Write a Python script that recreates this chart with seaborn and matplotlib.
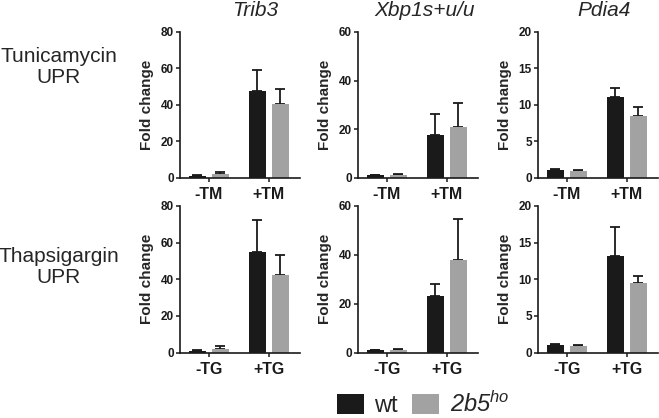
import matplotlib
matplotlib.use("Agg")
import matplotlib.pyplot as plt
from matplotlib.patches import Patch
import seaborn as sns
import pandas as pd
import numpy as np

# ---------------- data ----------------
genes = ["Trib3", "Xbp1s+u/u", "Pdia4"]
treat_tm = ["-TM", "+TM"]
treat_tg = ["-TG", "+TG"]
genotypes = ["wt", "2b5ho"]
ymax = [80, 60, 20]
ystep = [20, 20, 5]

# Tunicamycin row: mean values and (upper) SEM
tm_wt = {"Trib3": [1.0, 47.5], "Xbp1s+u/u": [1.0, 17.5], "Pdia4": [1.05, 11.0]}
tm_wt_err = {"Trib3": [0.3, 11.8], "Xbp1s+u/u": [0.2, 8.7], "Pdia4": [0.1, 1.3]}
tm_ko = {"Trib3": [2.0, 40.2], "Xbp1s+u/u": [1.1, 20.7], "Pdia4": [0.9, 8.5]}
tm_ko_err = {"Trib3": [1.2, 8.4], "Xbp1s+u/u": [0.4, 9.9], "Pdia4": [0.12, 1.2]}

# Thapsigargin row
tg_wt = {"Trib3": [1.0, 55.0], "Xbp1s+u/u": [1.0, 23.3], "Pdia4": [1.05, 13.2]}
tg_wt_err = {"Trib3": [0.3, 17.5], "Xbp1s+u/u": [0.2, 4.8], "Pdia4": [0.08, 3.9]}
tg_ko = {"Trib3": [2.0, 42.2], "Xbp1s+u/u": [1.1, 37.9], "Pdia4": [0.9, 9.5]}
tg_ko_err = {"Trib3": [1.3, 11.0], "Xbp1s+u/u": [0.4, 16.8], "Pdia4": [0.1, 1.0]}

row_labels = ["Tunicamycin\nUPR", "Thapsigargin\nUPR"]
legend_labels = ["wt", r"$2b5^{ho}$"]

# ---------------- style ----------------
sns.set_style("ticks")
plt.rcParams["font.family"] = ["Liberation Sans", "DejaVu Sans"]
plt.rcParams["mathtext.fontset"] = "custom"
plt.rcParams["mathtext.rm"] = "Liberation Sans:italic"
plt.rcParams["mathtext.it"] = "Liberation Sans:italic"

BLACK = "#1a1a1a"
GRAY = "#a2a2a2"
palette = {"wt": BLACK, "2b5ho": GRAY}

W, H = 659, 418
fig = plt.figure(figsize=(W / 100, H / 100), dpi=100)

col_left = [180, 358, 538]
ax_w = 120
rows_y = [(32, 177.5), (206, 352.5)]

rows = [
    (treat_tm, tm_wt, tm_wt_err, tm_ko, tm_ko_err),
    (treat_tg, tg_wt, tg_wt_err, tg_ko, tg_ko_err),
]

for r, (treats, wt, wt_err, ko, ko_err) in enumerate(rows):
    y0, y1 = rows_y[r]
    for c, gene in enumerate(genes):
        ax = fig.add_axes([col_left[c] / W, 1 - y1 / H, ax_w / W, (y1 - y0) / H])
        df = pd.DataFrame({
            "treat": treats + treats,
            "genotype": ["wt", "wt", "2b5ho", "2b5ho"],
            "value": wt[gene] + ko[gene],
        })
        errs = {"wt": wt_err[gene], "2b5ho": ko_err[gene]}
        sns.barplot(data=df, x="treat", y="value", hue="genotype",
                    hue_order=genotypes, order=treats, palette=palette,
                    width=0.77, gap=0.26, errorbar=None, legend=False,
                    linewidth=0, ax=ax, zorder=2)
        for cont, g in zip(ax.containers, genotypes):
            xs = [p.get_x() + p.get_width() / 2 for p in cont.patches]
            hs = [p.get_height() for p in cont.patches]
            ax.errorbar(xs, hs, yerr=[np.zeros(len(hs)), errs[g]], fmt="none",
                        ecolor=BLACK, elinewidth=1.3, capsize=3.5,
                        capthick=1.3, zorder=1)
        ax.set_xlim(-0.48, 1.52)
        ax.set_ylim(0, ymax[c])
        ax.set_yticks(np.arange(0, ymax[c] + 0.1, ystep[c]))
        ax.set_xlabel("")
        ax.set_ylabel("Fold change", fontsize=11, fontweight="bold", labelpad=5)
        sns.despine(ax=ax)
        for s in ["left", "bottom"]:
            ax.spines[s].set_linewidth(1.2)
            ax.spines[s].set_color(BLACK)
        ax.tick_params(axis="y", length=3, width=1.1, labelsize=8.5, pad=1.5,
                       colors=BLACK)
        ax.tick_params(axis="x", length=3, width=1.1, labelsize=11.5, pad=4,
                       colors=BLACK)
        for lab in ax.get_yticklabels() + ax.get_xticklabels():
            lab.set_fontweight("bold")

# titles
title_x = [255, 425, 604]
for gene, tx in zip(genes, title_x):
    fig.text(tx / W, 1 - 15.5 / H, gene, ha="center", va="baseline",
             fontsize=15, style="italic")

# row labels
for lab, cy in zip(row_labels, [66.7, 266.7]):
    fig.text(59 / W, 1 - cy / H, lab, ha="center", va="center",
             fontsize=15, linespacing=1.12)

# legend
handles = [Patch(facecolor=BLACK, edgecolor="none"),
           Patch(facecolor=GRAY, edgecolor="none")]
fig.legend(handles, legend_labels, ncol=2,
           loc="center", bbox_to_anchor=(423 / W, 1 - 404 / H), frameon=False,
           fontsize=17, handlelength=1.15, handleheight=0.9,
           handletextpad=0.45, columnspacing=0.6, borderpad=0, borderaxespad=0)

fig.savefig("out.png", dpi=100)
